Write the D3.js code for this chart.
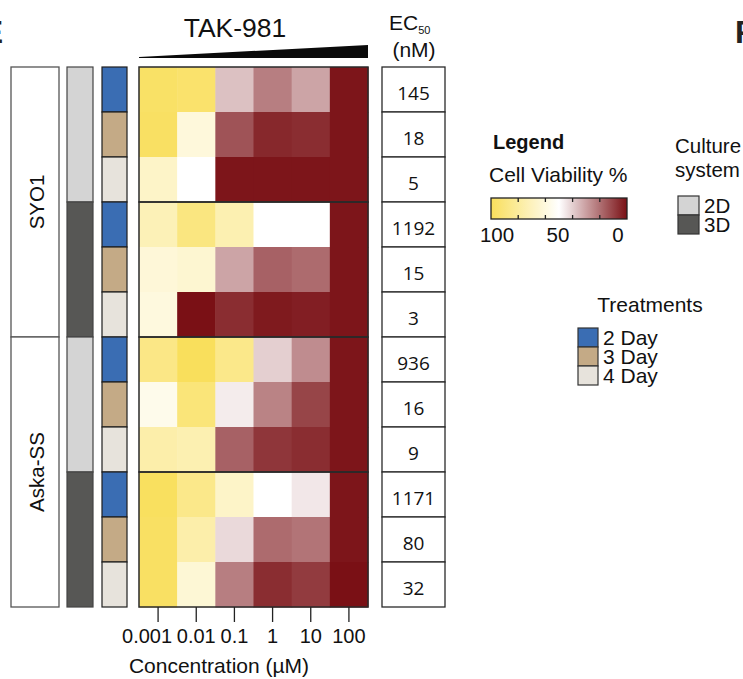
<!DOCTYPE html>
<html>
<head>
<meta charset="utf-8">
<script src="https://cdn.jsdelivr.net/npm/d3@7"></script>
<style>
  html, body { margin: 0; padding: 0; background: #fff; }
  svg { display: block; font-family: "Liberation Sans", Arial, sans-serif; }
</style>
</head>
<body>
<svg id="chart" width="743" height="679"></svg>
<script>
// ---------- DATA ----------
const concentrations = ["0.001", "0.01", "0.1", "1", "10", "100"];
const cellLines = ["SYO1", "Aska-SS"];
const cultures = ["2D", "3D"];
const treatments = ["2 Day", "3 Day", "4 Day"];

// Cell viability (%) per row: cell line / culture / treatment, across concentrations
const syo1_2D = [
  [97, 95, 37, 23, 31, 1],
  [98, 61, 14, 5, 6, 1],
  [67, 50, 1, 1, 1, 1]
];
const syo1_3D = [
  [72, 89, 74, 50, 50, 1],
  [62, 64, 31, 17, 19, 1],
  [60, 0, 6, 2, 3, 1]
];
const aska_2D = [
  [87, 100, 86, 40, 26, 1],
  [56, 91, 46, 24, 11, 1],
  [76, 74, 17, 8, 6, 1]
];
const aska_3D = [
  [99, 86, 67, 50, 45, 1],
  [98, 76, 42, 19, 21, 1],
  [98, 63, 23, 6, 9, 0]
];
const ec50 = [145, 18, 5, 1192, 15, 3, 936, 16, 9, 1171, 80, 32];
const legendTicks = [100, 50, 0];

// ---------- BUILD ROWS ----------
const blocks = [syo1_2D, syo1_3D, aska_2D, aska_3D];
const rows = [];
cellLines.forEach((cl, ci) => {
  cultures.forEach((cu, ui) => {
    treatments.forEach((tr, ti) => {
      const idx = rows.length;
      rows.push({ id: idx, cellLine: cl, culture: cu, treatment: tr,
                  values: blocks[ci * 2 + ui][ti], ec50: ec50[idx] });
    });
  });
});

// ---------- SCALES ----------
const svg = d3.select("#chart");
const x = d3.scaleBand().domain(concentrations).range([139, 368]);
const y = d3.scaleBand().domain(rows.map(d => d.id)).range([67, 607]);
const color = d3.scaleLinear().domain([0, 50, 100])
  .range(["#7a1015", "#ffffff", "#f9df5c"]).interpolate(d3.interpolateRgb);
const treatColor = d3.scaleOrdinal().domain(treatments).range(["#3a6db3", "#c4aa86", "#e7e3dc"]);
const cultColor = d3.scaleOrdinal().domain(cultures).range(["#d4d4d4", "#575755"]);

// ---------- PANEL LETTERS ----------
svg.append("text").attr("x", 3).attr("y", 43).attr("text-anchor", "end")
  .attr("font-size", 32).attr("font-weight", "bold").attr("fill", "#222").text("E");
svg.append("text").attr("x", 735).attr("y", 43).attr("text-anchor", "start")
  .attr("font-size", 32).attr("font-weight", "bold").attr("fill", "#222").text("F");

// ---------- TITLE + WEDGE ----------
svg.append("text").attr("x", 235).attr("y", 37).attr("text-anchor", "middle")
  .attr("font-size", 26.5).attr("fill", "#111").text("TAK-981");
const [wx0, wx1] = x.range();
svg.append("path")
  .attr("d", `M${wx0},57 L${wx1},45 L${wx1},58 L${wx0},58 Z`)
  .attr("fill", "#0a0a0a");

// EC50 header
const ecT = svg.append("text").attr("x", 389).attr("y", 30).attr("font-size", 21).attr("fill", "#111");
ecT.append("tspan").text("EC");
ecT.append("tspan").attr("font-size", 11).attr("dy", 4).text("50");
svg.append("text").attr("x", 414).attr("y", 57).attr("text-anchor", "middle")
  .attr("font-size", 21).attr("fill", "#111").text("(nM)");

// ---------- HEATMAP ----------
const cells = [];
rows.forEach(r => r.values.forEach((v, i) => cells.push({ row: r.id, conc: concentrations[i], v })));
svg.append("g").selectAll("rect").data(cells).join("rect")
  .attr("x", d => x(d.conc)).attr("y", d => y(d.row))
  .attr("width", x.bandwidth() + 0.5).attr("height", y.bandwidth() + 0.5)
  .attr("fill", d => color(d.v));

// block outlines (every 3 rows)
const blockStarts = [0, 3, 6, 9];
svg.append("g").selectAll("rect").data(blockStarts).join("rect")
  .attr("x", wx0).attr("y", d => y(d))
  .attr("width", wx1 - wx0).attr("height", y.bandwidth() * 3)
  .attr("fill", "none").attr("stroke", "#2a2a2a").attr("stroke-width", 1.5);

// ---------- ANNOTATION COLUMNS ----------
const clG = svg.append("g");
cellLines.forEach((cl, i) => {
  const top = y(i * 6), h = y.bandwidth() * 6;
  clG.append("rect").attr("x", 11).attr("y", top).attr("width", 48).attr("height", h)
    .attr("fill", "#fff").attr("stroke", "#555").attr("stroke-width", 1.3);
  clG.append("text").attr("transform", `translate(36,${top + h / 2}) rotate(-90)`)
    .attr("text-anchor", "middle").attr("dominant-baseline", "central")
    .attr("font-size", 20.5).attr("fill", "#111").text(cl);
});
const cultBlocks = [];
cellLines.forEach((cl, i) => cultures.forEach((cu, j) => cultBlocks.push({ start: i * 6 + j * 3, cu })));
svg.append("g").selectAll("rect").data(cultBlocks).join("rect")
  .attr("x", 67).attr("y", d => y(d.start)).attr("width", 26).attr("height", y.bandwidth() * 3)
  .attr("fill", d => cultColor(d.cu)).attr("stroke", "#444").attr("stroke-width", 1.2);
svg.append("g").selectAll("rect").data(rows).join("rect")
  .attr("x", 102).attr("y", d => y(d.id)).attr("width", 25).attr("height", y.bandwidth())
  .attr("fill", d => treatColor(d.treatment)).attr("stroke", "#1e1e1e").attr("stroke-width", 1.2);

// ---------- EC50 COLUMN ----------
const ecG = svg.append("g");
ecG.selectAll("rect").data(rows).join("rect")
  .attr("x", 382).attr("y", d => y(d.id)).attr("width", 63).attr("height", y.bandwidth())
  .attr("fill", "#fff").attr("stroke", "#2a2a2a").attr("stroke-width", 1.3);
ecG.selectAll("text").data(rows).join("text")
  .attr("x", 413.5).attr("y", d => y(d.id) + 33).attr("text-anchor", "middle")
  .attr("font-family", "'Open Sans', sans-serif").attr("font-size", 19).attr("fill", "#111")
  .text(d => d.ec50);

// ---------- X AXIS ----------
const axG = svg.append("g").attr("transform", "translate(0,607)")
  .call(d3.axisBottom(x).tickSize(15).tickSizeOuter(0).tickPadding(7));
axG.select(".domain").remove();
axG.selectAll(".tick line").attr("stroke", "#222").attr("stroke-width", 1.3);
axG.selectAll(".tick text").attr("font-size", 20).attr("fill", "#111")
  .attr("font-family", "'Liberation Sans', Arial, sans-serif")
  .attr("dx", (d, i) => i === 0 ? -11 : 0);
svg.append("text").attr("x", 219).attr("y", 673).attr("text-anchor", "middle")
  .attr("font-size", 21).attr("fill", "#111").text("Concentration (µM)");

// ---------- LEGEND: colour bar ----------
svg.append("text").attr("x", 493).attr("y", 149).attr("font-size", 20)
  .attr("font-weight", "bold").attr("fill", "#111").text("Legend");
svg.append("text").attr("x", 489).attr("y", 182).attr("font-size", 21)
  .attr("fill", "#111").text("Cell Viability %");
const lx = d3.scaleLinear().domain([100, 0]).range([491, 627]);
const grad = svg.append("defs").append("linearGradient").attr("id", "vgrad")
  .attr("x1", "0%").attr("x2", "100%");
d3.range(0, 101, 5).forEach(p => {
  grad.append("stop").attr("offset", p + "%").attr("stop-color", color(100 - p));
});
svg.append("rect").attr("x", lx(100)).attr("y", 198).attr("width", lx(0) - lx(100)).attr("height", 21)
  .attr("fill", "url(#vgrad)").attr("stroke", "#222").attr("stroke-width", 1.3);
const minorTicks = [80, 60, 40, 20];
svg.append("g").selectAll("path").data(minorTicks).join("path")
  .attr("d", d => `M${lx(d)},198 v4 M${lx(d)},219 v-4`)
  .attr("stroke", "#222").attr("stroke-width", 1.3);
const lblOffset = [6, -1, -9];
svg.append("g").selectAll("text").data(legendTicks).join("text")
  .attr("x", (d, i) => lx(d) + lblOffset[i]).attr("y", 242).attr("text-anchor", "middle")
  .attr("font-size", 20.5).attr("fill", "#111").text(d => d);

// ---------- LEGEND: culture system ----------
svg.append("text").attr("x", 675).attr("y", 153).attr("font-size", 20.5).attr("fill", "#111").text("Culture");
svg.append("text").attr("x", 675).attr("y", 177).attr("font-size", 20.5).attr("fill", "#111").text("system");
const cuLeg = svg.append("g");
cultures.forEach((cu, i) => {
  cuLeg.append("rect").attr("x", 678).attr("y", 196 + i * 19).attr("width", 21).attr("height", 19)
    .attr("fill", cultColor(cu)).attr("stroke", "#333").attr("stroke-width", 1.2);
  cuLeg.append("text").attr("x", 704).attr("y", 213 + i * 19).attr("font-size", 20.5)
    .attr("fill", "#111").text(cu);
});

// ---------- LEGEND: treatments ----------
svg.append("text").attr("x", 650).attr("y", 312).attr("text-anchor", "middle")
  .attr("font-size", 21).attr("fill", "#111").text("Treatments");
const trLeg = svg.append("g");
treatments.forEach((tr, i) => {
  trLeg.append("rect").attr("x", 578).attr("y", 328 + i * 19).attr("width", 20).attr("height", 19)
    .attr("fill", treatColor(tr)).attr("stroke", "#333").attr("stroke-width", 1.2);
  trLeg.append("text").attr("x", 603).attr("y", 345 + i * 19).attr("font-size", 21)
    .attr("fill", "#111").text(tr);
});
</script>
</body>
</html>
